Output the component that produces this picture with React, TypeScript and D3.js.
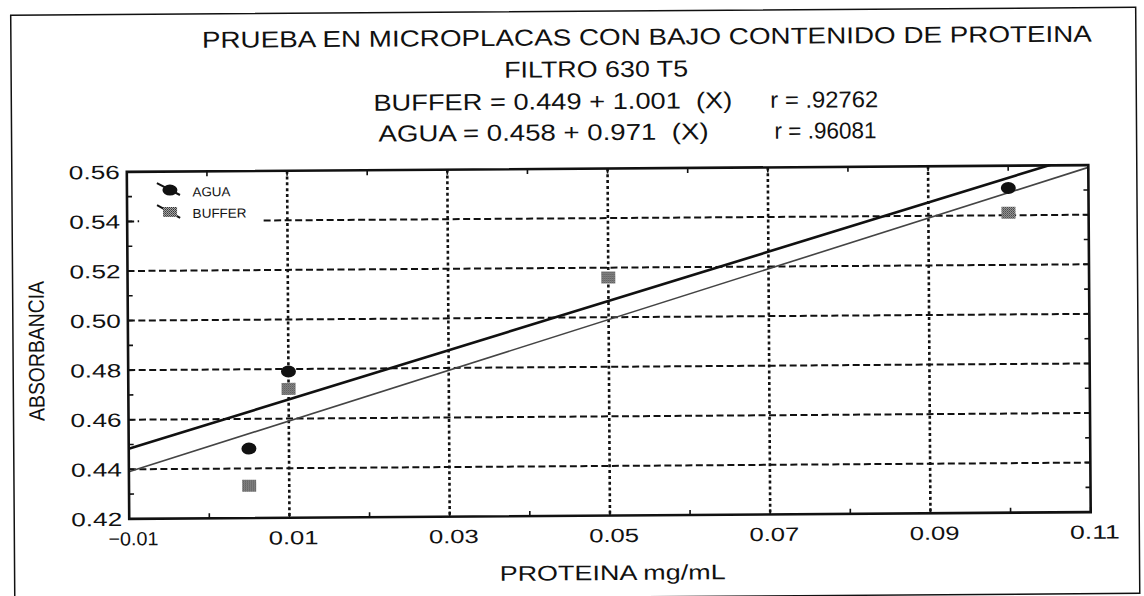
import React from 'react';
import * as d3 from 'd3';

// ---- data ----
const xTicks = [-0.01, 0.01, 0.03, 0.05, 0.07, 0.09, 0.11];
const yTicks = [0.42, 0.44, 0.46, 0.48, 0.5, 0.52, 0.54, 0.56];
const xMinor = [-0.01, 0, 0.01, 0.02, 0.03, 0.04, 0.05, 0.06, 0.07, 0.08, 0.09, 0.1, 0.11];
const yMinor = [0.42, 0.43, 0.44, 0.45, 0.46, 0.47, 0.48, 0.49, 0.5, 0.51, 0.52, 0.53, 0.54, 0.55, 0.56];
const xGrid = [0.01, 0.03, 0.05, 0.07, 0.09];
const yGrid = [0.44, 0.46, 0.48, 0.5, 0.52, 0.54];

const aguaX = [0.005, 0.01, 0.1];
const aguaY = [0.448, 0.479, 0.551];
const bufferX = [0.005, 0.01, 0.05, 0.1];
const bufferY = [0.433, 0.472, 0.516, 0.541];

// regression lines: [intercept, slope]
const aguaFit = [0.458, 0.971];
const bufferFit = [0.449, 1.001];

const title1 = 'PRUEBA EN MICROPLACAS CON BAJO CONTENIDO DE PROTEINA';
const title2 = 'FILTRO 630 T5';
const eqBuffer = 'BUFFER = 0.449 + 1.001\u00a0\u00a0(X)';
const rBuffer = 'r = .92762';
const eqAgua = 'AGUA = 0.458 + 0.971\u00a0\u00a0(X)';
const rAgua = 'r = .96081';
const xLabel = 'PROTEINA mg/mL';
const yLabel = 'ABSORBANCIA';
const legendNames = ['AGUA', 'BUFFER'];

const FONT = '"Liberation Sans", Arial, Helvetica, sans-serif';

export default function App() {
  const L = 128, R = 1089.5, T = 168.5, B = 515.5;
  const x = d3.scaleLinear().domain([-0.01, 0.11]).range([L, R]);
  const y = d3.scaleLinear().domain([0.42, 0.56]).range([B, T]);
  const fmt = d3.format('.2f');

  const fitLine = (fit: number[]) =>
    d3.line<number>().x((d) => x(d)).y((d) => y(fit[0] + fit[1] * d))([-0.01, 0.11]) || '';

  const txt = (s: string, xs: number, xe: number, base: number, size: number, extra: any = {}) => (
    <text x={xs} y={base} fontSize={size} textLength={xe - xs} lengthAdjust="spacingAndGlyphs" {...extra}>
      {s}
    </text>
  );

  return (
    <svg width={1144} height={596} style={{ position: 'absolute', left: 0, top: 0, background: '#fff' }}
      fontFamily={FONT} fill="#111">
      <defs>
        <pattern id="half" width={2} height={2} patternUnits="userSpaceOnUse">
          <rect width={2} height={2} fill="#b8b8b8" />
          <rect width={1} height={1} fill="#222" />
          <rect x={1} y={1} width={1} height={1} fill="#444" />
        </pattern>
        <clipPath id="plotClip">
          <rect x={L} y={T} width={R - L} height={B - T} />
        </clipPath>
      </defs>
      <g transform="rotate(-0.4 610 342)">
        {/* outer frame */}
        <rect x={13} y={11} width={1125} height={586} fill="none" stroke="#111" strokeWidth={1.5} />

        {/* titles */}
        {txt(title1, 204, 1094, 45, 23)}
        {txt(title2, 506, 690, 77, 23)}
        {txt(eqBuffer, 375, 734, 109, 23)}
        {txt(rBuffer, 772, 880, 109, 23)}
        {txt(eqAgua, 380, 710, 140, 23)}
        {txt(rAgua, 776, 878, 140, 23)}

        {/* gridlines */}
        {yGrid.map((v) => (
          <line key={'hg' + v} x1={L} x2={R} y1={y(v)} y2={y(v)} stroke="#111" strokeWidth={2}
            strokeDasharray="7 3.5" />
        ))}
        {xGrid.map((v) => (
          <line key={'vg' + v} x1={x(v)} x2={x(v)} y1={T} y2={B} stroke="#111" strokeWidth={2.6}
            strokeDasharray="3 2.8" />
        ))}

        {/* legend background */}
        <rect x={140} y={170} width={123} height={55} fill="#fff" />

        {/* regression lines */}
        <g clipPath="url(#plotClip)">
          <path d={fitLine(aguaFit)} stroke="#111" strokeWidth={2.6} fill="none" />
          <path d={fitLine(bufferFit)} stroke="#444" strokeWidth={1.6} fill="none" />
        </g>

        {/* points */}
        {aguaX.map((v, i) => (
          <ellipse key={'a' + i} cx={x(v)} cy={y(aguaY[i])} rx={7.5} ry={6} fill="#111" />
        ))}
        {bufferX.map((v, i) => (
          <rect key={'b' + i} x={x(v) - 7} y={y(bufferY[i]) - 6} width={14} height={12} fill="url(#half)" />
        ))}

        {/* axes frame */}
        <rect x={L} y={T} width={R - L} height={B - T} fill="none" stroke="#111" strokeWidth={2.6} />
        {/* minor ticks */}
        {xMinor.map((v) => (
          <g key={'xm' + v}>
            <line x1={x(v)} x2={x(v)} y1={B} y2={B - 5} stroke="#111" strokeWidth={1.6} />
            <line x1={x(v)} x2={x(v)} y1={T} y2={T + 5} stroke="#111" strokeWidth={1.6} />
          </g>
        ))}
        {yMinor.map((v) => (
          <g key={'ym' + v}>
            <line x1={L} x2={L + 5} y1={y(v)} y2={y(v)} stroke="#111" strokeWidth={1.6} />
            <line x1={R} x2={R - 5} y1={y(v)} y2={y(v)} stroke="#111" strokeWidth={1.6} />
          </g>
        ))}

        {/* tick labels */}
        {yTicks.map((v) => txt(fmt(v), L - 58, L - 7, y(v) + 7, 19, { key: 'yl' + v }))}
        {xTicks.map((v) => {
          const s = fmt(v);
          const w = s.startsWith('-') ? 58 : 50;
          const c = x(v) + 4;
          return txt(s, c - w / 2, c + w / 2, 542, 19, { key: 'xl' + v });
        })}

        {/* axis titles */}
        {txt(xLabel, 498, 724, 580, 21)}
        <text transform="translate(44 347) rotate(-90)" x={-70} y={0} fontSize={22}
          textLength={140} lengthAdjust="spacingAndGlyphs">
          {yLabel}
        </text>

        {/* legend */}
        <line x1={158} y1={180} x2={181} y2={192} stroke="#111" strokeWidth={2} />
        <ellipse cx={171} cy={187} rx={7.5} ry={5.5} fill="#111" />
        <line x1={158} y1={202} x2={181} y2={215} stroke="#111" strokeWidth={2} />
        <rect x={164} y={204} width={14} height={10} fill="url(#half)" />
        {txt(legendNames[0], 193.5, 231.5, 193.5, 13)}
        {txt(legendNames[1], 193.5, 247.5, 215, 13)}
      </g>
    </svg>
  );
}
